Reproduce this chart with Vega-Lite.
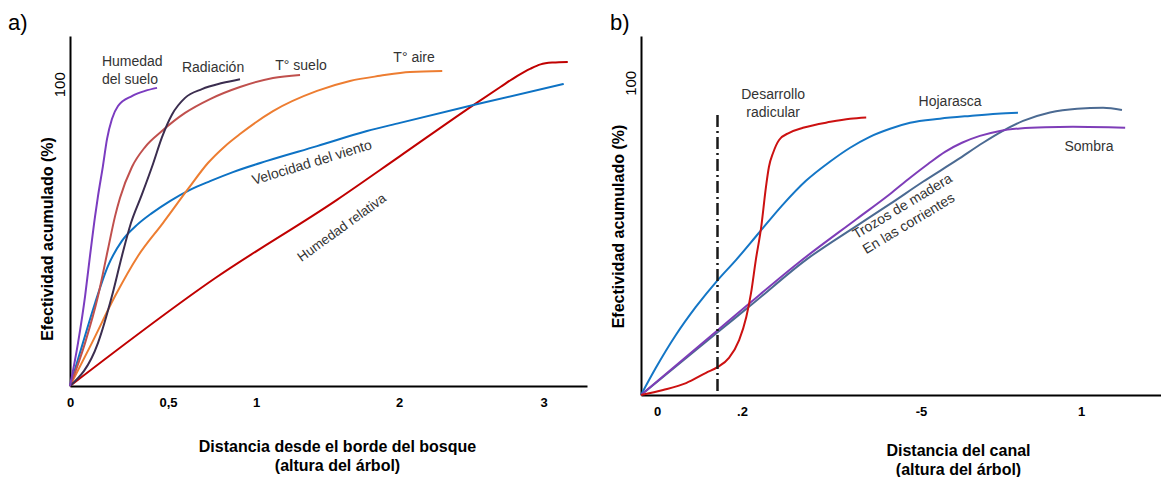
{
  "$schema": "https://vega.github.io/schema/vega-lite/v6.json",
  "background": "white",
  "padding": {"left": 8, "top": 12, "right": 0, "bottom": 0},
  "spacing": 23,
  "resolve": {"scale": {"color": "independent", "x": "independent", "y": "independent"}},
  "config": {
    "font": "Liberation Sans",
    "view": {"stroke": null},
    "axis": {"grid": false, "ticks": false, "domainColor": "black", "domainWidth": 2, "labelColor": "black", "titleColor": "black", "labelFlush": false, "labelOverlap": false}
  },
  "datasets": {
    "a": [
      {"s": "Humedad relativa", "x": 0, "y": 0},
      {"s": "Humedad relativa", "x": 0.767, "y": 35.7},
      {"s": "Humedad relativa", "x": 1.566, "y": 61.7},
      {"s": "Humedad relativa", "x": 2.007, "y": 76.2},
      {"s": "Humedad relativa", "x": 2.514, "y": 93.1},
      {"s": "Humedad relativa", "x": 2.701, "y": 99.1},
      {"s": "Humedad relativa", "x": 2.819, "y": 102.8},
      {"s": "Humedad relativa", "x": 2.910, "y": 105.2},
      {"s": "Humedad relativa", "x": 2.979, "y": 106.6},
      {"s": "Humedad relativa", "x": 3.063, "y": 107.2},
      {"s": "Humedad relativa", "x": 3.167, "y": 107.4},
      {"s": "Velocidad del viento", "x": 0, "y": 0},
      {"s": "Velocidad del viento", "x": 0.066, "y": 14.3},
      {"s": "Velocidad del viento", "x": 0.128, "y": 27.5},
      {"s": "Velocidad del viento", "x": 0.194, "y": 39.8},
      {"s": "Velocidad del viento", "x": 0.265, "y": 48.1},
      {"s": "Velocidad del viento", "x": 0.342, "y": 53.4},
      {"s": "Velocidad del viento", "x": 0.418, "y": 57.3},
      {"s": "Velocidad del viento", "x": 0.511, "y": 61.3},
      {"s": "Velocidad del viento", "x": 0.625, "y": 65.0},
      {"s": "Velocidad del viento", "x": 0.739, "y": 67.9},
      {"s": "Velocidad del viento", "x": 0.869, "y": 70.9},
      {"s": "Velocidad del viento", "x": 1.077, "y": 74.6},
      {"s": "Velocidad del viento", "x": 1.427, "y": 79.5},
      {"s": "Velocidad del viento", "x": 1.776, "y": 84.5},
      {"s": "Velocidad del viento", "x": 2.007, "y": 87.2},
      {"s": "Velocidad del viento", "x": 2.514, "y": 93.1},
      {"s": "Velocidad del viento", "x": 3.139, "y": 100.1},
      {"s": "T° aire", "x": 0, "y": 0},
      {"s": "T° aire", "x": 0.112, "y": 14.3},
      {"s": "T° aire", "x": 0.230, "y": 29.8},
      {"s": "T° aire", "x": 0.347, "y": 43.1},
      {"s": "T° aire", "x": 0.474, "y": 54.0},
      {"s": "T° aire", "x": 0.614, "y": 65.3},
      {"s": "T° aire", "x": 0.727, "y": 73.9},
      {"s": "T° aire", "x": 0.824, "y": 79.5},
      {"s": "T° aire", "x": 0.909, "y": 83.5},
      {"s": "T° aire", "x": 1.119, "y": 91.1},
      {"s": "T° aire", "x": 1.427, "y": 97.8},
      {"s": "T° aire", "x": 1.657, "y": 101.1},
      {"s": "T° aire", "x": 1.867, "y": 102.8},
      {"s": "T° aire", "x": 2.076, "y": 104.1},
      {"s": "T° aire", "x": 2.299, "y": 104.4},
      {"s": "T° suelo", "x": 0, "y": 0},
      {"s": "T° suelo", "x": 0.077, "y": 14.3},
      {"s": "T° suelo", "x": 0.143, "y": 29.8},
      {"s": "T° suelo", "x": 0.194, "y": 45.4},
      {"s": "T° suelo", "x": 0.230, "y": 56.3},
      {"s": "T° suelo", "x": 0.255, "y": 62.3},
      {"s": "T° suelo", "x": 0.316, "y": 72.6},
      {"s": "T° suelo", "x": 0.383, "y": 79.2},
      {"s": "T° suelo", "x": 0.469, "y": 84.5},
      {"s": "T° suelo", "x": 0.597, "y": 90.5},
      {"s": "T° suelo", "x": 0.739, "y": 95.1},
      {"s": "T° suelo", "x": 0.909, "y": 99.1},
      {"s": "T° suelo", "x": 1.119, "y": 102.1},
      {"s": "T° suelo", "x": 1.308, "y": 103.1},
      {"s": "Radiación", "x": 0, "y": 0},
      {"s": "Radiación", "x": 0.143, "y": 14.3},
      {"s": "Radiación", "x": 0.214, "y": 29.8},
      {"s": "Radiación", "x": 0.265, "y": 43.1},
      {"s": "Radiación", "x": 0.311, "y": 54.0},
      {"s": "Radiación", "x": 0.367, "y": 63.5},
      {"s": "Radiación", "x": 0.423, "y": 73.5},
      {"s": "Radiación", "x": 0.469, "y": 82.4},
      {"s": "Radiación", "x": 0.523, "y": 90.0},
      {"s": "Radiación", "x": 0.597, "y": 95.5},
      {"s": "Radiación", "x": 0.693, "y": 98.4},
      {"s": "Radiación", "x": 0.807, "y": 100.4},
      {"s": "Radiación", "x": 0.909, "y": 101.7},
      {"s": "Humedad del suelo", "x": 0, "y": 0},
      {"s": "Humedad del suelo", "x": 0.041, "y": 14.3},
      {"s": "Humedad del suelo", "x": 0.077, "y": 29.8},
      {"s": "Humedad del suelo", "x": 0.102, "y": 43.1},
      {"s": "Humedad del suelo", "x": 0.128, "y": 56.3},
      {"s": "Humedad del suelo", "x": 0.143, "y": 63.0},
      {"s": "Humedad del suelo", "x": 0.168, "y": 72.9},
      {"s": "Humedad del suelo", "x": 0.189, "y": 81.9},
      {"s": "Humedad del suelo", "x": 0.214, "y": 88.5},
      {"s": "Humedad del suelo", "x": 0.245, "y": 92.8},
      {"s": "Humedad del suelo", "x": 0.316, "y": 96.1},
      {"s": "Humedad del suelo", "x": 0.383, "y": 97.8},
      {"s": "Humedad del suelo", "x": 0.444, "y": 98.8}
    ],
    "aLab": [
      {"t": "Humedad", "x": 0.163, "y": 107.5},
      {"t": "del suelo", "x": 0.163, "y": 101.4}
    ],
    "aLabC": [
      {"t": "Radiación", "x": 0.756, "y": 105.5},
      {"t": "T° suelo", "x": 1.315, "y": 106.1},
      {"t": "T° aire", "x": 2.104, "y": 108.6}
    ],
    "b": [
      {"s": "Hojarasca", "x": 0, "y": 0},
      {"s": "Hojarasca", "x": 0.035, "y": 8.7},
      {"s": "Hojarasca", "x": 0.082, "y": 19.2},
      {"s": "Hojarasca", "x": 0.129, "y": 28.2},
      {"s": "Hojarasca", "x": 0.181, "y": 36.9},
      {"s": "Hojarasca", "x": 0.217, "y": 43.3},
      {"s": "Hojarasca", "x": 0.255, "y": 51.9},
      {"s": "Hojarasca", "x": 0.295, "y": 60.9},
      {"s": "Hojarasca", "x": 0.334, "y": 68.6},
      {"s": "Hojarasca", "x": 0.374, "y": 74.7},
      {"s": "Hojarasca", "x": 0.408, "y": 79.2},
      {"s": "Hojarasca", "x": 0.441, "y": 82.7},
      {"s": "Hojarasca", "x": 0.475, "y": 85.3},
      {"s": "Hojarasca", "x": 0.516, "y": 87.2},
      {"s": "Hojarasca", "x": 0.609, "y": 88.5},
      {"s": "Hojarasca", "x": 0.703, "y": 89.4},
      {"s": "Hojarasca", "x": 0.788, "y": 90.1},
      {"s": "Hojarasca", "x": 0.853, "y": 90.4},
      {"s": "Trozos de madera", "x": 0, "y": 0},
      {"s": "Trozos de madera", "x": 0.181, "y": 20.2},
      {"s": "Trozos de madera", "x": 0.242, "y": 28.8},
      {"s": "Trozos de madera", "x": 0.334, "y": 43.3},
      {"s": "Trozos de madera", "x": 0.419, "y": 54.2},
      {"s": "Trozos de madera", "x": 0.475, "y": 61.2},
      {"s": "Trozos de madera", "x": 0.556, "y": 68.3},
      {"s": "Trozos de madera", "x": 0.663, "y": 75.3},
      {"s": "Trozos de madera", "x": 0.744, "y": 80.8},
      {"s": "Trozos de madera", "x": 0.806, "y": 84.6},
      {"s": "Trozos de madera", "x": 0.869, "y": 87.8},
      {"s": "Trozos de madera", "x": 0.953, "y": 90.5},
      {"s": "Trozos de madera", "x": 1.038, "y": 91.7},
      {"s": "Trozos de madera", "x": 1.119, "y": 92.0},
      {"s": "Trozos de madera", "x": 1.178, "y": 91.3},
      {"s": "Sombra", "x": 0, "y": 0},
      {"s": "Sombra", "x": 0.181, "y": 20.8},
      {"s": "Sombra", "x": 0.242, "y": 29.8},
      {"s": "Sombra", "x": 0.321, "y": 42.3},
      {"s": "Sombra", "x": 0.419, "y": 56.4},
      {"s": "Sombra", "x": 0.475, "y": 64.4},
      {"s": "Sombra", "x": 0.516, "y": 69.6},
      {"s": "Sombra", "x": 0.572, "y": 74.0},
      {"s": "Sombra", "x": 0.625, "y": 77.9},
      {"s": "Sombra", "x": 0.678, "y": 80.8},
      {"s": "Sombra", "x": 0.734, "y": 83.0},
      {"s": "Sombra", "x": 0.797, "y": 84.6},
      {"s": "Sombra", "x": 0.859, "y": 85.4},
      {"s": "Sombra", "x": 0.938, "y": 85.8},
      {"s": "Sombra", "x": 1.025, "y": 85.9},
      {"s": "Sombra", "x": 1.188, "y": 85.6},
      {"s": "Desarrollo radicular", "x": 0, "y": 0},
      {"s": "Desarrollo radicular", "x": 0.052, "y": 1.6},
      {"s": "Desarrollo radicular", "x": 0.106, "y": 3.8},
      {"s": "Desarrollo radicular", "x": 0.153, "y": 7.1},
      {"s": "Desarrollo radicular", "x": 0.181, "y": 9.0},
      {"s": "Desarrollo radicular", "x": 0.205, "y": 11.9},
      {"s": "Desarrollo radicular", "x": 0.222, "y": 17.6},
      {"s": "Desarrollo radicular", "x": 0.234, "y": 25.0},
      {"s": "Desarrollo radicular", "x": 0.242, "y": 32.7},
      {"s": "Desarrollo radicular", "x": 0.250, "y": 43.3},
      {"s": "Desarrollo radicular", "x": 0.259, "y": 53.8},
      {"s": "Desarrollo radicular", "x": 0.267, "y": 66.7},
      {"s": "Desarrollo radicular", "x": 0.272, "y": 73.1},
      {"s": "Desarrollo radicular", "x": 0.279, "y": 77.6},
      {"s": "Desarrollo radicular", "x": 0.289, "y": 81.7},
      {"s": "Desarrollo radicular", "x": 0.306, "y": 84.0},
      {"s": "Desarrollo radicular", "x": 0.329, "y": 85.6},
      {"s": "Desarrollo radicular", "x": 0.375, "y": 87.5},
      {"s": "Desarrollo radicular", "x": 0.408, "y": 88.5},
      {"s": "Desarrollo radicular", "x": 0.435, "y": 88.9}
    ],
    "bLab": [
      {"t": "Desarrollo", "x": 0.279, "y": 96.2},
      {"t": "radicular", "x": 0.279, "y": 90.4},
      {"t": "Hojarasca", "x": 0.641, "y": 93.9},
      {"t": "Sombra", "x": 1.075, "y": 79.5}
    ],
    "bLabR": [
      {"t": "Trozos de madera", "x": 0.496, "y": 60.3},
      {"t": "En las corrientes", "x": 0.5125, "y": 54.8}
    ]
  },
  "hconcat": [
    {
      "width": 517,
      "height": 350,
      "title": {"text": "a)", "anchor": "start", "frame": "group", "fontSize": 22, "fontWeight": "normal", "dx": -62, "offset": -16, "baseline": "alphabetic", "color": "black"},
      "layer": [
        {
          "data": {"name": "a"},
          "mark": {"type": "line", "interpolate": "monotone", "strokeWidth": 2},
          "encoding": {
            "x": {
              "field": "x", "type": "quantitative",
              "scale": {"domain": [0, 0.5, 1, 2, 3.3], "range": [0, 98, 186, 329, 517], "nice": false, "zero": false},
              "axis": {
                "values": [0, 0.5, 1, 2, 3],
                "labelExpr": "datum.value == 0.5 ? '0,5' : '' + datum.value",
                "labelFontSize": 13, "labelFontWeight": "bold", "labelPadding": 10,
                "title": ["Distancia desde el borde del bosque", "(altura del árbol)"],
                "titleFontSize": 16, "titleFontWeight": "bold", "titleX": 267, "titleY": 52, "titleBaseline": "top", "titleLineHeight": 19
              }
            },
            "y": {
              "field": "y", "type": "quantitative",
              "scale": {"domain": [0, 116], "nice": false},
              "axis": {
                "values": [100], "labelAngle": -90, "labelAlign": "center", "labelBaseline": "bottom", "labelFontSize": 15, "labelPadding": 3,
                "title": "Efectividad  acumulado  (%)", "titleFontSize": 16, "titleFontWeight": "bold", "titleX": -22.5, "titleY": 202.5, "titleBaseline": "middle", "titleAngle": -90
              }
            },
            "color": {
              "field": "s", "type": "nominal", "legend": null,
              "scale": {
                "domain": ["Humedad del suelo", "Radiación", "T° suelo", "T° aire", "Velocidad del viento", "Humedad relativa"],
                "range": ["#7B3CC0", "#3B2D4F", "#C0504D", "#ED7D31", "#0D72C4", "#C00000"]
              }
            }
          }
        },
        {
          "data": {"name": "aLab"},
          "mark": {"type": "text", "fontSize": 14, "color": "#333333", "align": "left", "baseline": "middle"},
          "encoding": {"x": {"field": "x", "type": "quantitative"}, "y": {"field": "y", "type": "quantitative"}, "text": {"field": "t"}}
        },
        {
          "data": {"name": "aLabC"},
          "mark": {"type": "text", "fontSize": 14, "color": "#333333", "align": "center", "baseline": "middle"},
          "encoding": {"x": {"field": "x", "type": "quantitative"}, "y": {"field": "y", "type": "quantitative"}, "text": {"field": "t"}}
        },
        {
          "data": {"values": [{"t": "Velocidad del viento", "x": 1.392, "y": 73.9}]},
          "mark": {"type": "text", "fontSize": 14, "color": "#333333", "align": "center", "baseline": "middle", "angle": -17},
          "encoding": {"x": {"field": "x", "type": "quantitative"}, "y": {"field": "y", "type": "quantitative"}, "text": {"field": "t"}}
        },
        {
          "data": {"values": [{"t": "Humedad relativa", "x": 1.601, "y": 52.4}]},
          "mark": {"type": "text", "fontSize": 13.5, "color": "#333333", "align": "center", "baseline": "middle", "angle": -36},
          "encoding": {"x": {"field": "x", "type": "quantitative"}, "y": {"field": "y", "type": "quantitative"}, "text": {"field": "t"}}
        }
      ]
    },
    {
      "width": 520,
      "height": 359,
      "title": {"text": "b)", "anchor": "start", "frame": "group", "fontSize": 22, "fontWeight": "normal", "dx": -31, "offset": -16, "baseline": "alphabetic", "color": "black"},
      "layer": [
        {
          "data": {"name": "b"},
          "mark": {"type": "line", "interpolate": "monotone", "strokeWidth": 2},
          "encoding": {
            "x": {
              "field": "x", "type": "quantitative",
              "scale": {"domain": [0, 0.2, 0.5, 1, 1.3], "range": [0, 85, 264, 424, 520], "nice": false, "zero": false},
              "axis": {
                "values": [0, 0.2, 0.5, 1],
                "labelExpr": "datum.value == 0.2 ? '.2' : datum.value == 0.5 ? '-5' : '' + datum.value",
                "labelOffset": 16,
                "labelFontSize": 13, "labelFontWeight": "bold", "labelPadding": 10,
                "title": ["Distancia  del  canal", "(altura del árbol)"],
                "titleFontSize": 16, "titleFontWeight": "bold", "titleX": 317, "titleY": 47, "titleBaseline": "top", "titleLineHeight": 19
              }
            },
            "y": {
              "field": "y", "type": "quantitative",
              "scale": {"domain": [0, 115], "nice": false},
              "axis": {
                "values": [100], "labelAngle": -90, "labelAlign": "center", "labelBaseline": "bottom", "labelFontSize": 15, "labelPadding": 3,
                "title": "Efectividad  acumulado  (%)", "titleFontSize": 16, "titleFontWeight": "bold", "titleX": -23, "titleY": 190, "titleBaseline": "middle", "titleAngle": -90
              }
            },
            "color": {
              "field": "s", "type": "nominal", "legend": null,
              "scale": {
                "domain": ["Hojarasca", "Trozos de madera", "Sombra", "Desarrollo radicular"],
                "range": ["#1476C6", "#4B6A92", "#7E3DB8", "#CC1111"]
              }
            }
          }
        },
        {
          "data": {"values": [{"x": 0.18, "y": 89.7, "y2": 0}]},
          "mark": {"type": "rule", "strokeDash": [12, 4, 2, 4], "strokeWidth": 2.5, "color": "#1a1a1a"},
          "encoding": {"x": {"field": "x", "type": "quantitative"}, "y": {"field": "y", "type": "quantitative"}, "y2": {"field": "y2"}}
        },
        {
          "data": {"name": "bLab"},
          "mark": {"type": "text", "fontSize": 14, "color": "#333333", "align": "center", "baseline": "middle"},
          "encoding": {"x": {"field": "x", "type": "quantitative"}, "y": {"field": "y", "type": "quantitative"}, "text": {"field": "t"}}
        },
        {
          "data": {"name": "bLabR"},
          "mark": {"type": "text", "fontSize": 14, "color": "#333333", "align": "center", "baseline": "middle", "angle": -31},
          "encoding": {"x": {"field": "x", "type": "quantitative"}, "y": {"field": "y", "type": "quantitative"}, "text": {"field": "t"}}
        }
      ]
    }
  ]
}
